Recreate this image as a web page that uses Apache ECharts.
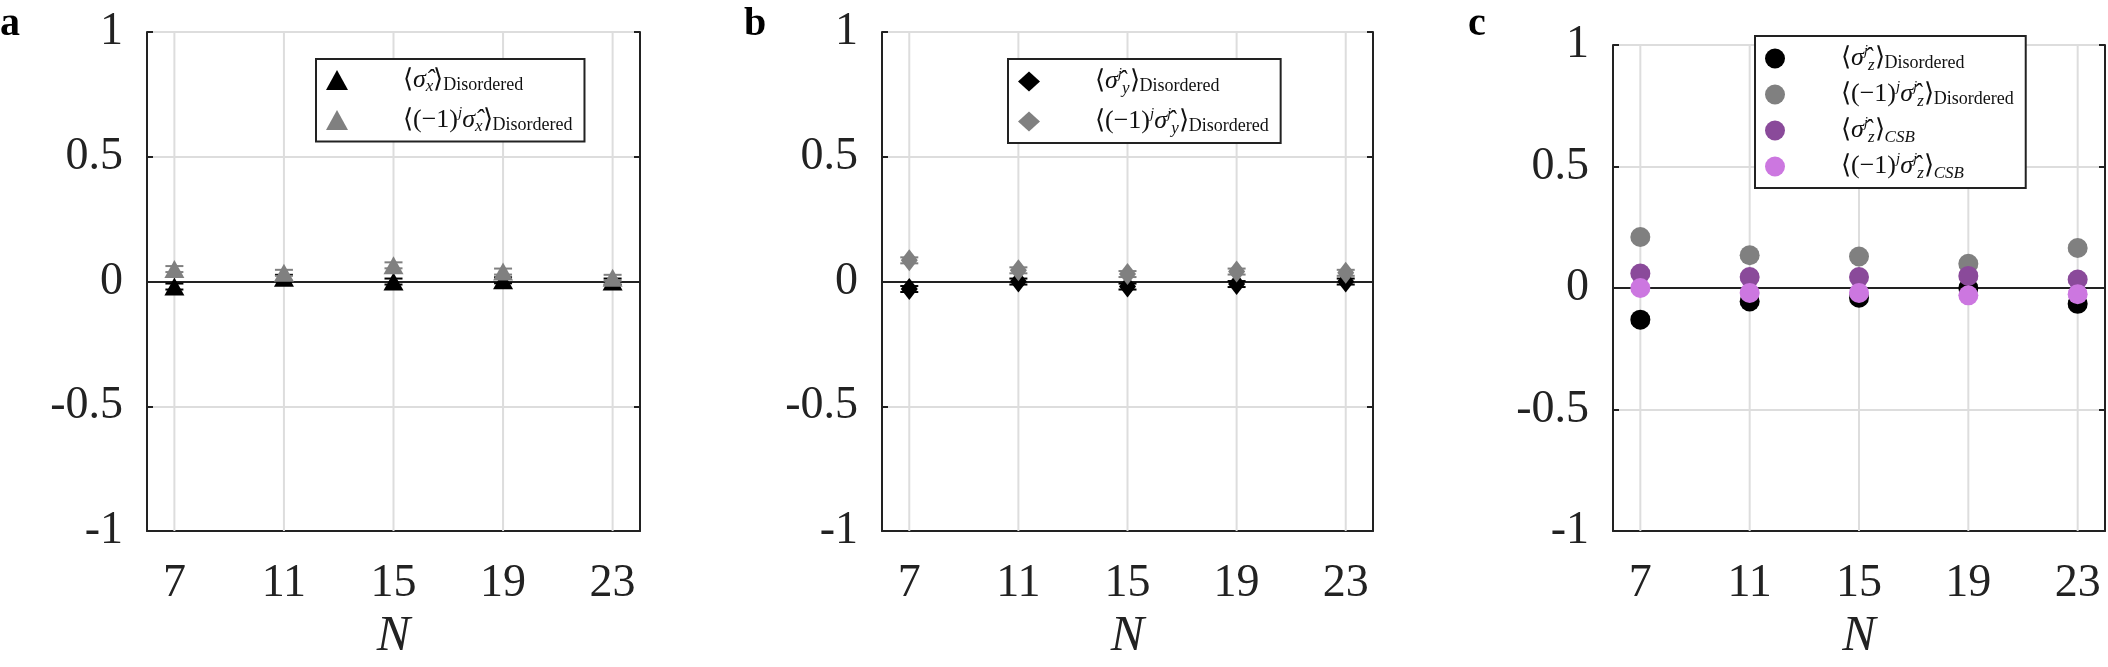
<!DOCTYPE html>
<html><head><meta charset="utf-8">
<script src="https://cdn.jsdelivr.net/npm/echarts@6/dist/echarts.min.js"></script>
<style>html,body{margin:0;padding:0;background:#fff}#c{width:2108px;height:667px}</style>
</head><body><div id="c"></div>
<script>
const N = [7, 11, 15, 19, 23];
const yTicks = [-1, -0.5, 0, 0.5, 1];
const aX = [-0.02, 0.015, 0.0, 0.005, 0.0];
const aXalt = [0.05, 0.035, 0.065, 0.04, 0.015];
const bY = [-0.03, 0.0, -0.02, -0.01, 0.0];
const bYalt = [0.085, 0.045, 0.03, 0.04, 0.035];
const cZ = [-0.13, -0.055, -0.04, 0.0, -0.065];
const cZalt = [0.21, 0.135, 0.13, 0.1, 0.165];
const cZcsb = [0.06, 0.045, 0.045, 0.05, 0.035];
const cZcsbAlt = [0.0, -0.02, -0.02, -0.03, -0.025];
const err = [0.012, 0.012, 0.012, 0.012, 0.012];

const chart = echarts.init(document.getElementById('c'));
const F = 'Liberation Serif';
const grids = [
  {left:147, top:32, width:493, height:519},
  {left:882, top:32, width:491, height:519},
  {left:1613, top:45, width:493, height:519}
];
const xAxes = grids.map((g,i)=>({gridIndex:i,type:'value',min:6,max:24,interval:1,name:'N',nameLocation:'middle',nameGap:80,
  nameTextStyle:{fontFamily:F,fontStyle:'italic',fontSize:50,color:'#222'},
  axisLine:{onZero:false,lineStyle:{color:'#222',width:2}},axisTick:{show:false},
  axisLabel:{margin:30,fontFamily:F,fontSize:46,color:'#222',formatter:v=>N.includes(v)?String(v):''},
  splitLine:{show:true,lineStyle:{color:'#ddd',width:2},interval:(idx,v)=>false}}));
// custom vertical grid lines only at N
xAxes.forEach(a=>{a.splitLine={show:false};});
const yAxes = grids.map((g,i)=>({gridIndex:i,type:'value',min:-1,max:1,interval:0.5,
  axisLine:{lineStyle:{color:'#222',width:2}},axisTick:{show:true,inside:true,length:6,lineStyle:{color:'#222',width:2}},
  axisLabel:{margin:24,fontFamily:F,fontSize:46,color:'#222',formatter:v=>yTicks.includes(v)?String(v):''},
  splitLine:{show:true,lineStyle:{color:'#ddd',width:2}}}));
// secondary axes for box top/right
const xTop = grids.map((g,i)=>({gridIndex:i,type:'value',min:6,max:24,position:'top',axisLine:{lineStyle:{color:'#222',width:2}},axisTick:{show:false},axisLabel:{show:false},splitLine:{show:false}}));
const yRight = grids.map((g,i)=>({gridIndex:i,type:'value',min:-1,max:1,interval:0.5,position:'right',axisLine:{lineStyle:{color:'#222',width:2}},axisTick:{show:true,inside:true,length:6,lineStyle:{color:'#222',width:2}},axisLabel:{show:false},splitLine:{show:false}}));

const series = [];
function vlines(i){
  series.push({type:'custom',xAxisIndex:i,yAxisIndex:i,silent:true,z:1,data:N.map(n=>[n]),
    renderItem:(p,api)=>{const a=api.coord([api.value(0),-1]),b=api.coord([api.value(0),1]);
      return {type:'line',shape:{x1:a[0],y1:a[1],x2:b[0],y2:b[1]},style:{stroke:'#ddd',lineWidth:2}};}});
}
function add(i,name,vals,symbol,size,color){
  series.push({type:'custom',xAxisIndex:i,yAxisIndex:i,silent:true,z:3,data:N.map((n,k)=>[n,vals[k]-err[k],vals[k]+err[k]]),
    renderItem:(p,api)=>{const lo=api.coord([api.value(0),api.value(1)]),hi=api.coord([api.value(0),api.value(2)]);const w=9;
      return {type:'group',children:[
        {type:'line',shape:{x1:lo[0],y1:lo[1],x2:hi[0],y2:hi[1]},style:{stroke:color,lineWidth:2}},
        {type:'line',shape:{x1:lo[0]-w,y1:lo[1],x2:lo[0]+w,y2:lo[1]},style:{stroke:color,lineWidth:2}},
        {type:'line',shape:{x1:hi[0]-w,y1:hi[1],x2:hi[0]+w,y2:hi[1]},style:{stroke:color,lineWidth:2}}]};}});
  series.push({type:'scatter',name,xAxisIndex:i,yAxisIndex:i,symbol,symbolSize:size,z:4,itemStyle:{color,opacity:1},data:N.map((n,k)=>[n,vals[k]])});
}
[0,1,2].forEach(vlines);
add(0,'a1',aX,'triangle',[20,18],'#000');
add(0,'a2',aXalt,'triangle',[20,18],'#808080');
add(1,'b1',bY,'diamond',[17,22],'#000');
add(1,'b2',bYalt,'diamond',[17,22],'#808080');
add(2,'c1',cZ,'circle',20,'#000');
add(2,'c2',cZalt,'circle',20,'#808080');
add(2,'c3',cZcsb,'circle',20,'#8a4a9a');
add(2,'c4',cZcsbAlt,'circle',20,'#cc77e0');

const labels = {
  a1:'{m|⟨}{i|σ̂}{s|x}{m|⟩}{d|Disordered}',
  a2:'{m|⟨(−1)}{p|j}{i|σ̂}{s|x}{m|⟩}{d|Disordered}',
  b1:'{m|⟨}{i|σ̂}{p|j}{s|y}{m|⟩}{d|Disordered}',
  b2:'{m|⟨(−1)}{p|j}{i|σ̂}{p|j}{s|y}{m|⟩}{d|Disordered}',
  c1:'{m|⟨}{i|σ̂}{p|j}{s|z}{m|⟩}{d|Disordered}',
  c2:'{m|⟨(−1)}{p|j}{i|σ̂}{p|j}{s|z}{m|⟩}{d|Disordered}',
  c3:'{m|⟨}{i|σ̂}{p|j}{s|z}{m|⟩}{s|CSB}',
  c4:'{m|⟨(−1)}{p|j}{i|σ̂}{p|j}{s|z}{m|⟩}{s|CSB}'
};
const rich = {
  m:{fontFamily:F,fontSize:26,color:'#111'},
  i:{fontFamily:F,fontSize:26,fontStyle:'italic',color:'#111'},
  s:{fontFamily:F,fontSize:17,fontStyle:'italic',color:'#111',padding:[14,0,0,0]},
  p:{fontFamily:F,fontSize:15,fontStyle:'italic',color:'#111',padding:[0,0,14,0]},
  d:{fontFamily:F,fontSize:18,color:'#111',padding:[10,0,0,0]}
};
function leg(names,left,top,w,gap){
  return {data:names,orient:'vertical',left,top,width:w,borderColor:'#222',borderWidth:2,backgroundColor:'#fff',
    padding:[8,12,6,10],itemGap:gap,itemWidth:22,itemHeight:20,selectedMode:false,
    formatter:n=>labels[n],textStyle:{rich,padding:[0,0,0,50]}};
}
chart.setOption({
  animation:false,
  grid:grids,
  xAxis:[...xAxes,...xTop],
  yAxis:[...yAxes,...yRight],
  legend:[leg(['a1','a2'],316,59,300,10),leg(['b1','b2'],1008,59,340,10),leg(['c1','c2','c3','c4'],1755,36,350,6)],
  graphic:[
    {type:'text',left:0,top:5,style:{text:'a',fontFamily:F,fontWeight:'bold',fontSize:40,fill:'#000'}},
    {type:'text',left:744,top:5,style:{text:'b',fontFamily:F,fontWeight:'bold',fontSize:40,fill:'#000'}},
    {type:'text',left:1468,top:5,style:{text:'c',fontFamily:F,fontWeight:'bold',fontSize:40,fill:'#000'}}
  ],
  series
});
</script></body></html>
